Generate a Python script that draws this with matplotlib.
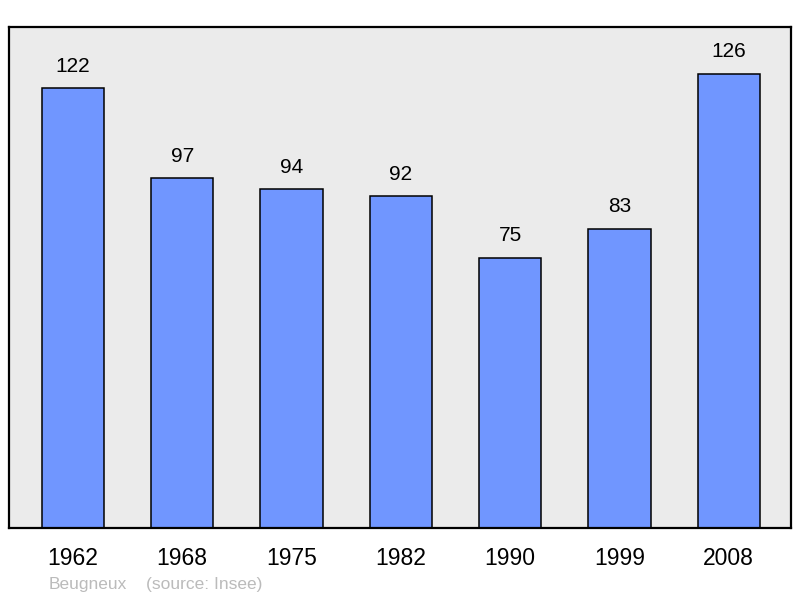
import matplotlib.pyplot as plt

plt.rcParams["font.family"] = ["Liberation Sans", "DejaVu Sans"]

years = ["1962", "1968", "1975", "1982", "1990", "1999", "2008"]
population = [122, 97, 94, 92, 75, 83, 126]

fig = plt.figure(figsize=(8, 5.98), dpi=100)
ax = fig.add_axes([9 / 800, 70 / 598, 782 / 800, 501 / 598])
ax.set_facecolor("#ebebeb")

xs = range(len(years))
ax.bar(xs, population, width=0.57, color="#7096ff", edgecolor="black", linewidth=1.1, zorder=2)

for x, v in zip(xs, population):
    ax.annotate(str(v), (x, v), xytext=(0, 9), textcoords="offset points",
                ha="center", va="bottom", fontsize=15)

ax.set_xlim(-0.585, 6.57)
ax.set_ylim(0, 139)
ax.set_yticks([])
ax.set_xticks(list(xs))
ax.set_xticklabels(years, fontsize=16.5)
ax.tick_params(axis="x", length=0, pad=14)
for spine in ax.spines.values():
    spine.set_linewidth(1.6)

fig.text(49 / 800, 1 - 584 / 598, "Beugneux", color="#bbbbbb", fontsize=12.5, va="center")
fig.text(146 / 800, 1 - 584 / 598, "(source: Insee)", color="#bbbbbb", fontsize=12.5, va="center")

plt.savefig("out.png")
